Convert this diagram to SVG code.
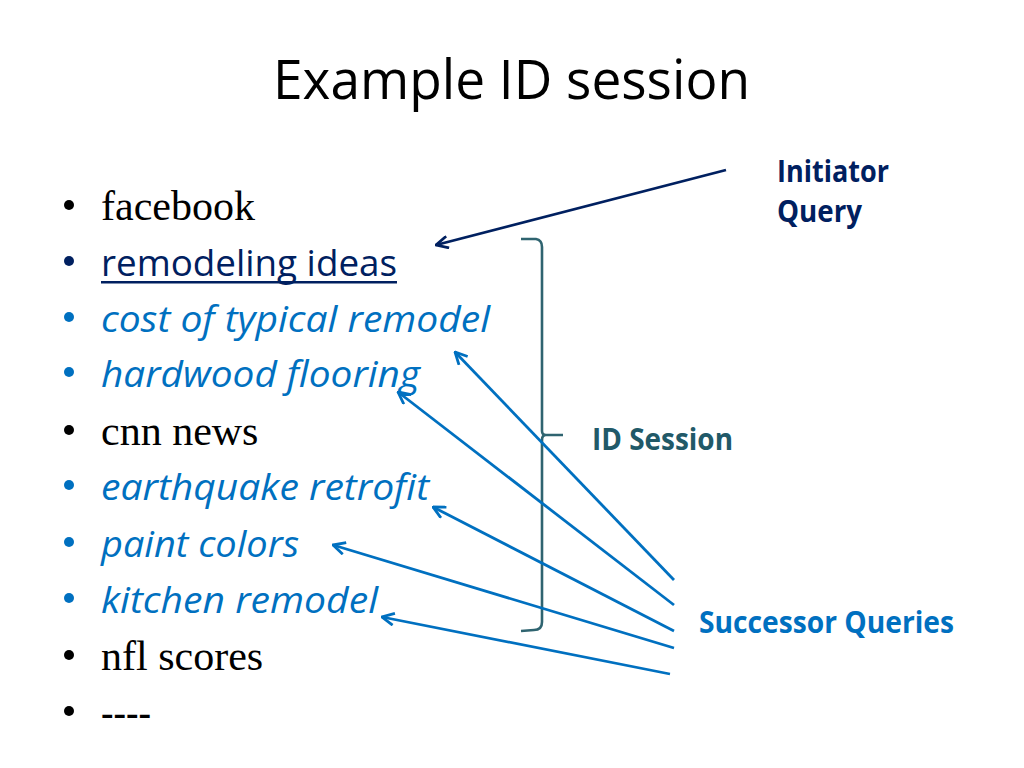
<svg xmlns="http://www.w3.org/2000/svg" width="1024" height="768" viewBox="0 0 1024 768">
  <style>
    .serif { font-family: "Liberation Serif", "Times New Roman", serif; font-size: 42px; fill: #000; }
    .sans { font-family: "Open Sans", "Liberation Sans", sans-serif; font-size: 37px; }
    .it { font-style: italic; fill: #0070C0; }
    .lbl { font-family: "Open Sans", "Liberation Sans", sans-serif; font-size: 30px; font-weight: bold; }
    .title { font-family: "Open Sans", "Liberation Sans", sans-serif; font-size: 55px; fill: #000; }
    .conn { fill: none; stroke-width: 2.8; }
  </style>
  <defs>
    <marker id="ahNavy" viewBox="0 0 14 14" refX="13" refY="7" markerWidth="14" markerHeight="14" markerUnits="userSpaceOnUse" orient="auto">
      <path d="M1,1 L13,7 L1,13" fill="none" stroke="#002060" stroke-width="2.8"/>
    </marker>
    <marker id="ahBlue" viewBox="0 0 14 14" refX="13" refY="7" markerWidth="14" markerHeight="14" markerUnits="userSpaceOnUse" orient="auto">
      <path d="M1,1 L13,7 L1,13" fill="none" stroke="#0070C0" stroke-width="2.8"/>
    </marker>
  </defs>
  <rect width="1024" height="768" fill="#fff"/>

  <g id="title">
    <text class="title" x="273" y="99" textLength="477" lengthAdjust="spacingAndGlyphs">Example ID session</text>
  </g>

  <g id="bullets">
    <g id="q-facebook"><circle cx="69" cy="205" r="5" fill="#000"/><text class="serif" x="101" y="220">facebook</text></g>
    <g id="q-remodeling-ideas"><circle cx="69" cy="261" r="5" fill="#002060"/><text class="sans" x="101" y="276" fill="#002060" textLength="296" lengthAdjust="spacingAndGlyphs">remodeling ideas</text><rect x="101" y="281" width="296" height="2.5" fill="#002060"/></g>
    <g id="q-cost"><circle cx="69" cy="317" r="5" fill="#0070C0"/><text class="sans it" x="101" y="332" textLength="389" lengthAdjust="spacingAndGlyphs">cost of typical remodel</text></g>
    <g id="q-hardwood"><circle cx="69" cy="372" r="5" fill="#0070C0"/><text class="sans it" x="101" y="387" textLength="319" lengthAdjust="spacingAndGlyphs">hardwood flooring</text></g>
    <g id="q-cnn"><circle cx="69" cy="430" r="5" fill="#000"/><text class="serif" x="101" y="445">cnn news</text></g>
    <g id="q-earthquake"><circle cx="69" cy="485" r="5" fill="#0070C0"/><text class="sans it" x="101" y="500" textLength="328" lengthAdjust="spacingAndGlyphs">earthquake retrofit</text></g>
    <g id="q-paint"><circle cx="69" cy="542" r="5" fill="#0070C0"/><text class="sans it" x="101" y="557" textLength="198" lengthAdjust="spacingAndGlyphs">paint colors</text></g>
    <g id="q-kitchen"><circle cx="69" cy="598" r="5" fill="#0070C0"/><text class="sans it" x="101" y="613" textLength="277" lengthAdjust="spacingAndGlyphs">kitchen remodel</text></g>
    <g id="q-nfl"><circle cx="69" cy="655" r="5" fill="#000"/><text class="serif" x="101" y="670">nfl scores</text></g>
    <g id="q-dash"><circle cx="69" cy="711" r="5" fill="#000"/><text class="serif" x="101" y="726" textLength="50" lengthAdjust="spacingAndGlyphs">----</text></g>
  </g>

  <g id="brace">
    <path d="M521,239 L536,239 Q542,240 542,247 L542,431 Q542,435 546,435 L563,435 M546,435 Q542,435 542,440 L542,622 Q542,630 534,630 L521,631" fill="none" stroke="#2F6470" stroke-width="2.6"/>
  </g>

  <g id="label-initiator">
    <text class="lbl" fill="#002060"><tspan x="777" y="182" textLength="112" lengthAdjust="spacingAndGlyphs">Initiator</tspan><tspan x="777" y="222" textLength="85" lengthAdjust="spacingAndGlyphs">Query</tspan></text>
  </g>
  <g id="label-idsession">
    <text class="lbl" x="592" y="450" fill="#215968" textLength="141" lengthAdjust="spacingAndGlyphs">ID Session</text>
  </g>
  <g id="label-successor">
    <text class="lbl" x="699" y="633" fill="#0070C0" textLength="255" lengthAdjust="spacingAndGlyphs">Successor Queries</text>
  </g>

  <g id="connectors">
    <line class="conn" x1="726" y1="170" x2="436" y2="245" stroke="#002060" marker-end="url(#ahNavy)"/>
    <line class="conn" x1="674" y1="580" x2="455" y2="352" stroke="#0070C0" marker-end="url(#ahBlue)"/>
    <line class="conn" x1="674" y1="605" x2="398" y2="392" stroke="#0070C0" marker-end="url(#ahBlue)"/>
    <line class="conn" x1="674" y1="631" x2="433" y2="507" stroke="#0070C0" marker-end="url(#ahBlue)"/>
    <line class="conn" x1="674" y1="648" x2="333" y2="545" stroke="#0070C0" marker-end="url(#ahBlue)"/>
    <line class="conn" x1="670" y1="674" x2="382" y2="617" stroke="#0070C0" marker-end="url(#ahBlue)"/>
  </g>
</svg>
